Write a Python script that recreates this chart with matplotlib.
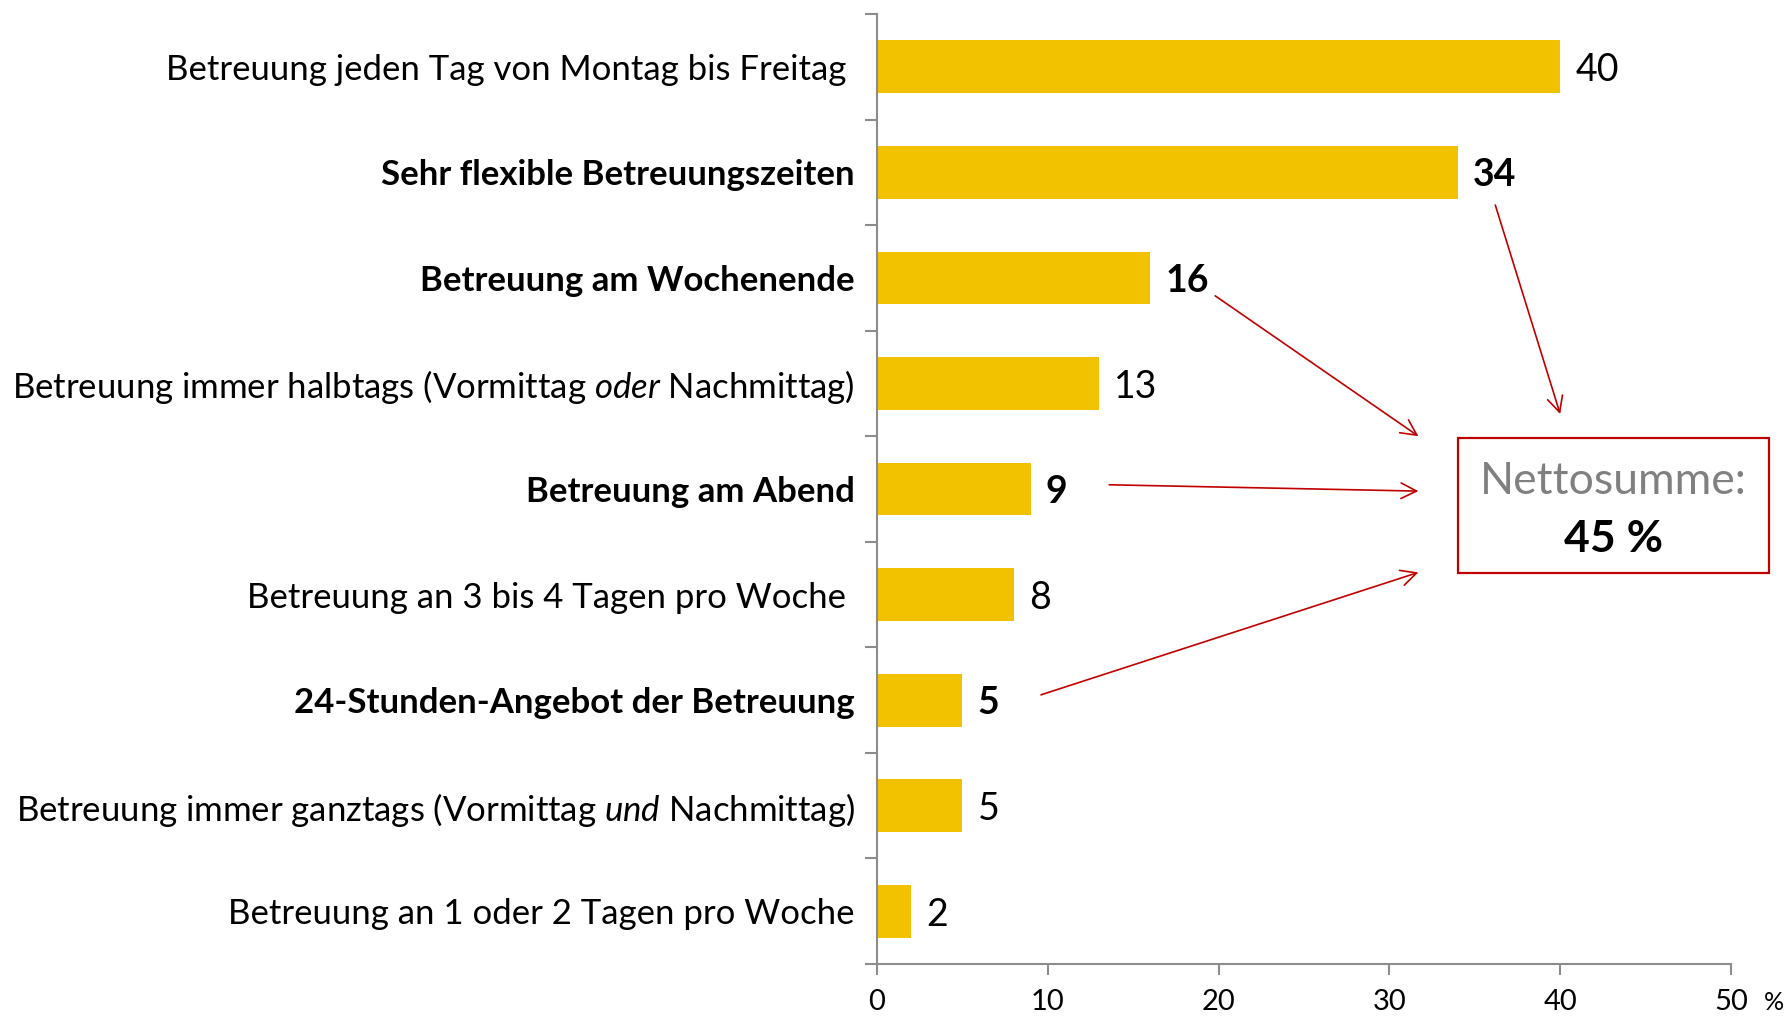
import matplotlib
matplotlib.use("Agg")
import matplotlib.pyplot as plt
from matplotlib.patches import Rectangle

FONT = "Lato"
plt.rcParams['font.family'] = [FONT, 'DejaVu Sans']
plt.rcParams['mathtext.fontset'] = 'custom'
plt.rcParams['mathtext.rm'] = FONT
plt.rcParams['mathtext.it'] = FONT + ':italic'
plt.rcParams['mathtext.bf'] = FONT + ':bold'

categories = [
    "Betreuung jeden Tag von Montag bis Freitag ",
    "Sehr flexible Betreuungszeiten",
    "Betreuung am Wochenende",
    r"Betreuung immer halbtags (Vormittag $\mathit{oder}$ Nachmittag)",
    "Betreuung am Abend",
    "Betreuung an 3 bis 4 Tagen pro Woche ",
    "24-Stunden-Angebot der Betreuung",
    r"Betreuung immer ganztags (Vormittag $\mathit{und}$ Nachmittag)",
    "Betreuung an 1 oder 2 Tagen pro Woche",
]
values = [40, 34, 16, 13, 9, 8, 5, 5, 2]
bold = [False, True, True, False, True, False, True, False, False]
xticks = [0, 10, 20, 30, 40, 50]
net_label = "Nettosumme:"
net_value = "45 %"

# arrows: (start_x, start_y, end_x, end_y) in data units
arrows = [
    (36.2, 1.31, 40.0, 3.29),
    (19.8, 2.17, 31.7, 3.50),
    (13.6, 3.96, 31.7, 4.02),
    (9.6, 5.95, 31.7, 4.79),
]

W, H = 1789, 1019
fig = plt.figure(figsize=(W / 100, H / 100), dpi=100)
ax = fig.add_axes([877 / W, 1 - 964 / H, (1731 - 877) / W, (964 - 14) / H])

bar_color = "#F2C200"
grey = "#8C8C8C"
red = "#C00000"
fs = 25

ypos = list(range(len(categories)))
ax.barh(ypos, values, height=0.5, color=bar_color, zorder=2)
ax.set_xlim(0, 50)
ax.set_ylim(len(categories) - 0.5, -0.5)

for y, v, b in zip(ypos, values, bold):
    ax.annotate(str(v), (v, y), xytext=(11, 0), textcoords="offset points",
                ha="left", va="center_baseline", fontsize=27,
                fontweight="bold" if b else "normal", color="black")

ax.set_yticks(ypos)
ax.set_yticklabels(categories, fontsize=fs)
for lbl, b in zip(ax.get_yticklabels(), bold):
    if b:
        lbl.set_fontweight("bold")
ax.tick_params(axis="y", which="major", length=0, pad=16)
ax.set_yticks([i - 0.5 for i in range(len(categories) + 1)], minor=True)
ax.tick_params(axis="y", which="minor", length=9, width=1.5, color=grey, direction="out")

ax.set_xticks(xticks)
ax.set_xticklabels([str(t) for t in xticks], fontsize=21)
ax.tick_params(axis="x", which="major", length=8, width=1.5, color=grey, pad=10)

for s in ["top", "right"]:
    ax.spines[s].set_visible(False)
for s in ["left", "bottom"]:
    ax.spines[s].set_color(grey)
    ax.spines[s].set_linewidth(1.5)

fig.text(1774 / W, 1 - 1002 / H, "%", ha="center", va="center", fontsize=18)

for sx, sy, ex, ey in arrows:
    ax.annotate("", xy=(ex, ey), xytext=(sx, sy),
                arrowprops=dict(arrowstyle="->", color=red, lw=1.2,
                                mutation_scale=28, shrinkA=0, shrinkB=0),
                annotation_clip=False)

box = Rectangle((1458 / W, 1 - 573 / H), (1769 - 1458) / W, (573 - 438) / H,
                transform=fig.transFigure, fill=False, edgecolor=red, lw=1.6)
fig.patches.append(box)
fig.text((1458 + 1769) / 2 / W, 1 - 478 / H, net_label, ha="center", va="center_baseline",
         fontsize=32, color="#808080")
fig.text((1458 + 1769) / 2 / W, 1 - 535 / H, net_value, ha="center", va="center_baseline",
         fontsize=32, color="black", fontweight="bold")

fig.savefig("out.png", dpi=100)
